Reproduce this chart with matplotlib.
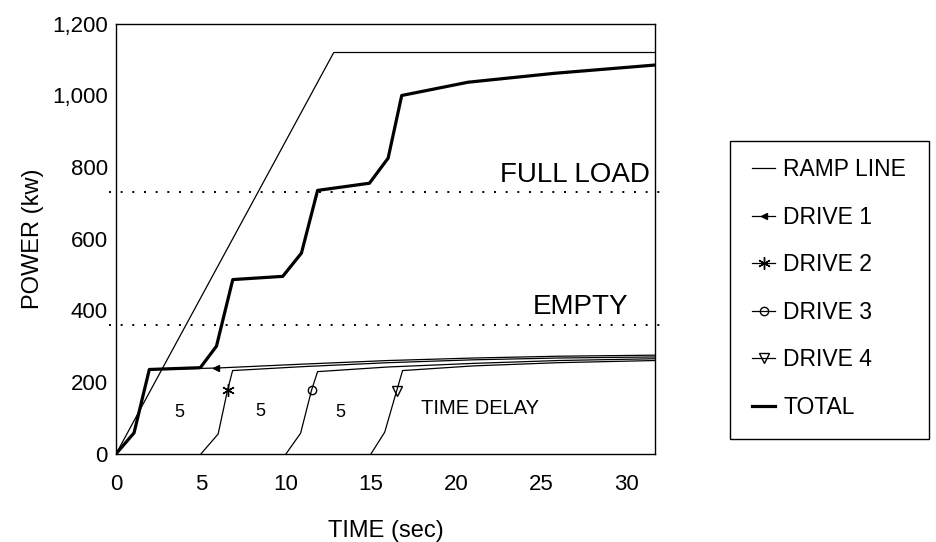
#!/bin/python3
# -*- coding: utf-8 -*-

import matplotlib
matplotlib.use('Agg')
import matplotlib.pyplot as plt
from matplotlib.lines import Line2D
from matplotlib.patches import Rectangle

plt.rcParams['font.family'] = ['Liberation Sans', 'DejaVu Sans']

# ramp line (sec, kw)
ramp_t = [0, 12.8, 31.7]
ramp_p = [0, 1120, 1120]

# single drives, each one starts 5 sec after the previous one
d1_t = [0, 1.05, 1.95, 5.9, 11, 16, 21, 26, 31.7]
d1_p = [0, 58, 235, 239, 250, 260, 267, 272, 275]
d2_t = [5, 6.0, 6.55, 6.85, 11, 16, 21, 26, 31.7]
d2_p = [0, 55, 177, 232, 243, 254, 262, 267, 270]
d3_t = [10, 10.85, 11.5, 11.85, 16, 21, 26, 31.7]
d3_p = [0, 57, 178, 229, 242, 252, 260, 265]
d4_t = [15, 15.8, 16.5, 16.85, 21, 26, 31.7]
d4_p = [0, 60, 175, 232, 245, 254, 260]

# total power
tot_t = [0, 1.05, 1.95, 4.95, 5.9, 6.86, 9.8, 10.9, 11.85, 14.9, 16.0, 16.8,
         20.7, 25.8, 31.7]
tot_p = [0, 58, 235, 240, 300, 486, 495, 560, 735, 755, 825, 1000,
         1037, 1062, 1085]

full_load = 730
empty = 360

delay_x = [3.7, 8.5, 13.2]
delay_y = [116, 118, 116]

xticks = [0, 5, 10, 15, 20, 25, 30]
yticks = [0, 200, 400, 600, 800, 1000, 1200]
ytick_labels = ['0', '200', '400', '600', '800', '1,000', '1,200']

fig = plt.figure(figsize=(9.37, 5.42), dpi=100)
ax = fig.add_axes([0.124, 0.163, 0.575, 0.793])

thin = dict(color='black', lw=0.9)
ax.plot(ramp_t, ramp_p, **thin)
ax.plot(d1_t, d1_p, marker='<', ms=4, markevery=[3], **thin)
ax.plot(d2_t, d2_p, marker=(6, 2, 0), ms=9, markevery=[2], **thin)
ax.plot(d3_t, d3_p, marker='o', ms=6, mfc='none', markevery=[2], **thin)
ax.plot(d4_t, d4_p, marker='v', ms=7, mfc='none', markevery=[2], **thin)
ax.plot(tot_t, tot_p, color='black', lw=2.3)

# dotted reference levels, a bit longer than the frame
for lvl in (full_load, empty):
    ax.plot([-0.4, 32.3], [lvl, lvl], color='black', lw=1.4,
            ls=(0, (1, 5)), clip_on=False)

ax.text(27.0, full_load + 12, 'FULL LOAD', fontsize=20, ha='center', va='bottom')
ax.text(27.3, empty + 12, 'EMPTY', fontsize=20, ha='center', va='bottom')
for x, y in zip(delay_x, delay_y):
    ax.text(x, y, '5', fontsize=13, ha='center', va='center')
ax.text(21.4, 125, 'TIME DELAY', fontsize=14.5, ha='center', va='center')

ax.set_xlim(0, 31.7)
ax.set_ylim(0, 1200)
ax.set_xticks(xticks)
ax.set_yticks(yticks)
ax.set_yticklabels(ytick_labels)
ax.tick_params(length=0, labelsize=16)
ax.tick_params(axis='x', pad=15)
ax.tick_params(axis='y', pad=6)
for sp in ax.spines.values():
    sp.set_linewidth(1.0)
ax.set_xlabel('TIME (sec)', fontsize=17, labelpad=18)
ax.set_ylabel('POWER (kw)', fontsize=17, labelpad=6)

# legend with a plain box drawn by hand
handles = [
    Line2D([], [], **thin),
    Line2D([], [], marker='<', ms=4, markevery=[1], **thin),
    Line2D([], [], marker=(6, 2, 0), ms=9, markevery=[1], **thin),
    Line2D([], [], marker='o', ms=6, mfc='none', markevery=[1], **thin),
    Line2D([], [], marker='v', ms=7, mfc='none', markevery=[1], **thin),
    Line2D([], [], color='black', lw=2.3),
]
labels = ['RAMP LINE', 'DRIVE 1', 'DRIVE 2', 'DRIVE 3', 'DRIVE 4', 'TOTAL']
fig.legend(handles, labels, loc='upper left', bbox_to_anchor=(0.803, 0.708),
           frameon=False, fontsize=16.5, handlelength=1.0, handletextpad=0.35,
           labelspacing=1.07, borderaxespad=0, borderpad=0)
fig.patches.append(Rectangle((0.779, 0.19), 0.212, 0.55, transform=fig.transFigure,
                             fill=False, edgecolor='black', lw=1.0))

fig.savefig('out.png', dpi=100)
